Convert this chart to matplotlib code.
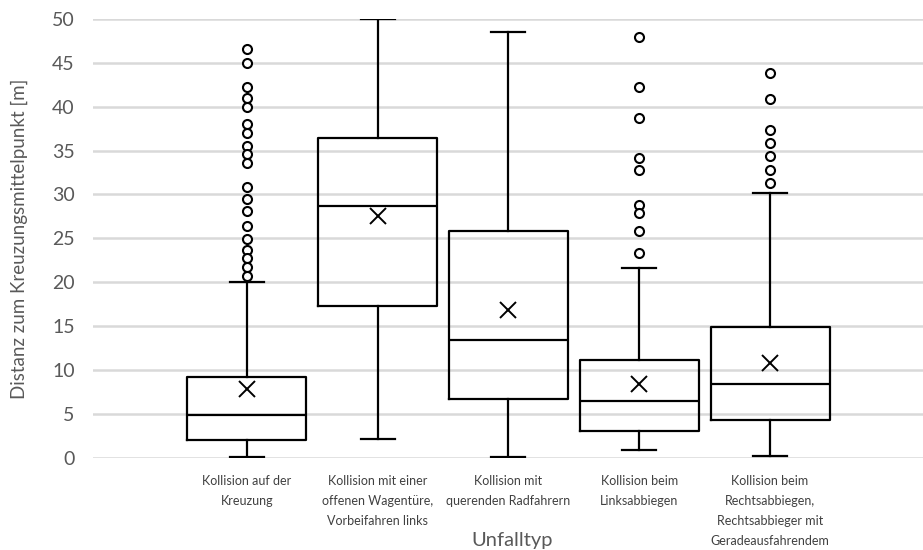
import matplotlib
matplotlib.use("Agg")
import matplotlib.pyplot as plt

plt.rcParams['font.family'] = ['Lato', 'DejaVu Sans']

CATEGORIES = [
    'Kollision auf der\nKreuzung',
    'Kollision mit einer\noffenen Wagentüre,\nVorbeifahren links',
    'Kollision mit\nquerenden Radfahrern',
    'Kollision beim\nLinksabbiegen',
    'Kollision beim\nRechtsabbiegen,\nRechtsabbieger mit\nGeradeausfahrendem',
]
WHISLO = [0.2, 2.2, 0.2, 0.9, 0.3]
Q1 = [2.1, 17.3, 6.7, 3.1, 4.3]
MEDIAN = [4.9, 28.7, 13.5, 6.5, 8.4]
Q3 = [9.3, 36.4, 25.9, 11.2, 14.9]
WHISHI = [20.1, 50.0, 48.5, 21.6, 30.2]
MEAN = [7.9, 27.5, 16.9, 8.5, 10.8]
OUTLIERS = [
    [46.5, 44.9, 42.2, 41.0, 39.9, 38.0, 37.0, 35.5, 34.6, 33.6,
     30.8, 29.5, 28.1, 26.4, 24.9, 23.7, 22.8, 21.7, 20.7],
    [],
    [],
    [47.9, 42.2, 38.7, 34.1, 32.8, 28.8, 27.9, 25.9, 23.4],
    [43.8, 40.9, 37.3, 35.8, 34.4, 32.8, 31.3],
]

GREY = '#595959'

stats = []
for i in range(len(CATEGORIES)):
    stats.append(dict(whislo=WHISLO[i], q1=Q1[i], med=MEDIAN[i], q3=Q3[i],
                      whishi=WHISHI[i], mean=MEAN[i], fliers=OUTLIERS[i]))

fig = plt.figure(figsize=(9.23, 5.5), dpi=100)
ax = fig.add_axes([0.1004, 0.1667, 0.8996, 0.7995])

positions = list(range(1, len(CATEGORIES) + 1))
line = dict(color='black', linewidth=1.6)
ax.bxp(stats, positions=positions, widths=0.91, showmeans=True,
       boxprops=line, medianprops=line, whiskerprops=line, capprops=line,
       capwidths=0.26,
       flierprops=dict(marker='o', markersize=6.5, markerfacecolor='white',
                       markeredgecolor='black', markeredgewidth=1.5),
       meanprops=dict(marker='x', markersize=12, markeredgecolor='black',
                      markeredgewidth=1.4),
       manage_ticks=False, zorder=3)

ax.set_xlim(-0.18, 6.17)
ax.set_ylim(0, 50)
ax.set_yticks(range(0, 51, 5))
ax.grid(axis='y', color='#d9d9d9', linewidth=1.8, zorder=0)
ax.set_axisbelow(True)
for s in ax.spines.values():
    s.set_visible(False)

ax.set_xticks(positions)
ax.set_xticklabels(CATEGORIES, fontsize=9, color='#404040', linespacing=1.8,
                   va='top')
ax.tick_params(axis='x', length=0, pad=12)
ax.tick_params(axis='y', length=0, pad=13, labelsize=14, labelcolor=GREY)

# axis title sits between the wrapped category labels, as in the original
ax.set_xlabel('Unfalltyp', fontsize=14.5, color=GREY, va='center')
ax.xaxis.set_label_coords(0.5056, -0.186)
ax.set_ylabel('Distanz zum Kreuzungsmittelpunkt [m]', fontsize=13.5,
              color=GREY, va='center')
ax.yaxis.set_label_coords(-0.088, 0.5)

fig.savefig('out.png', dpi=100)
